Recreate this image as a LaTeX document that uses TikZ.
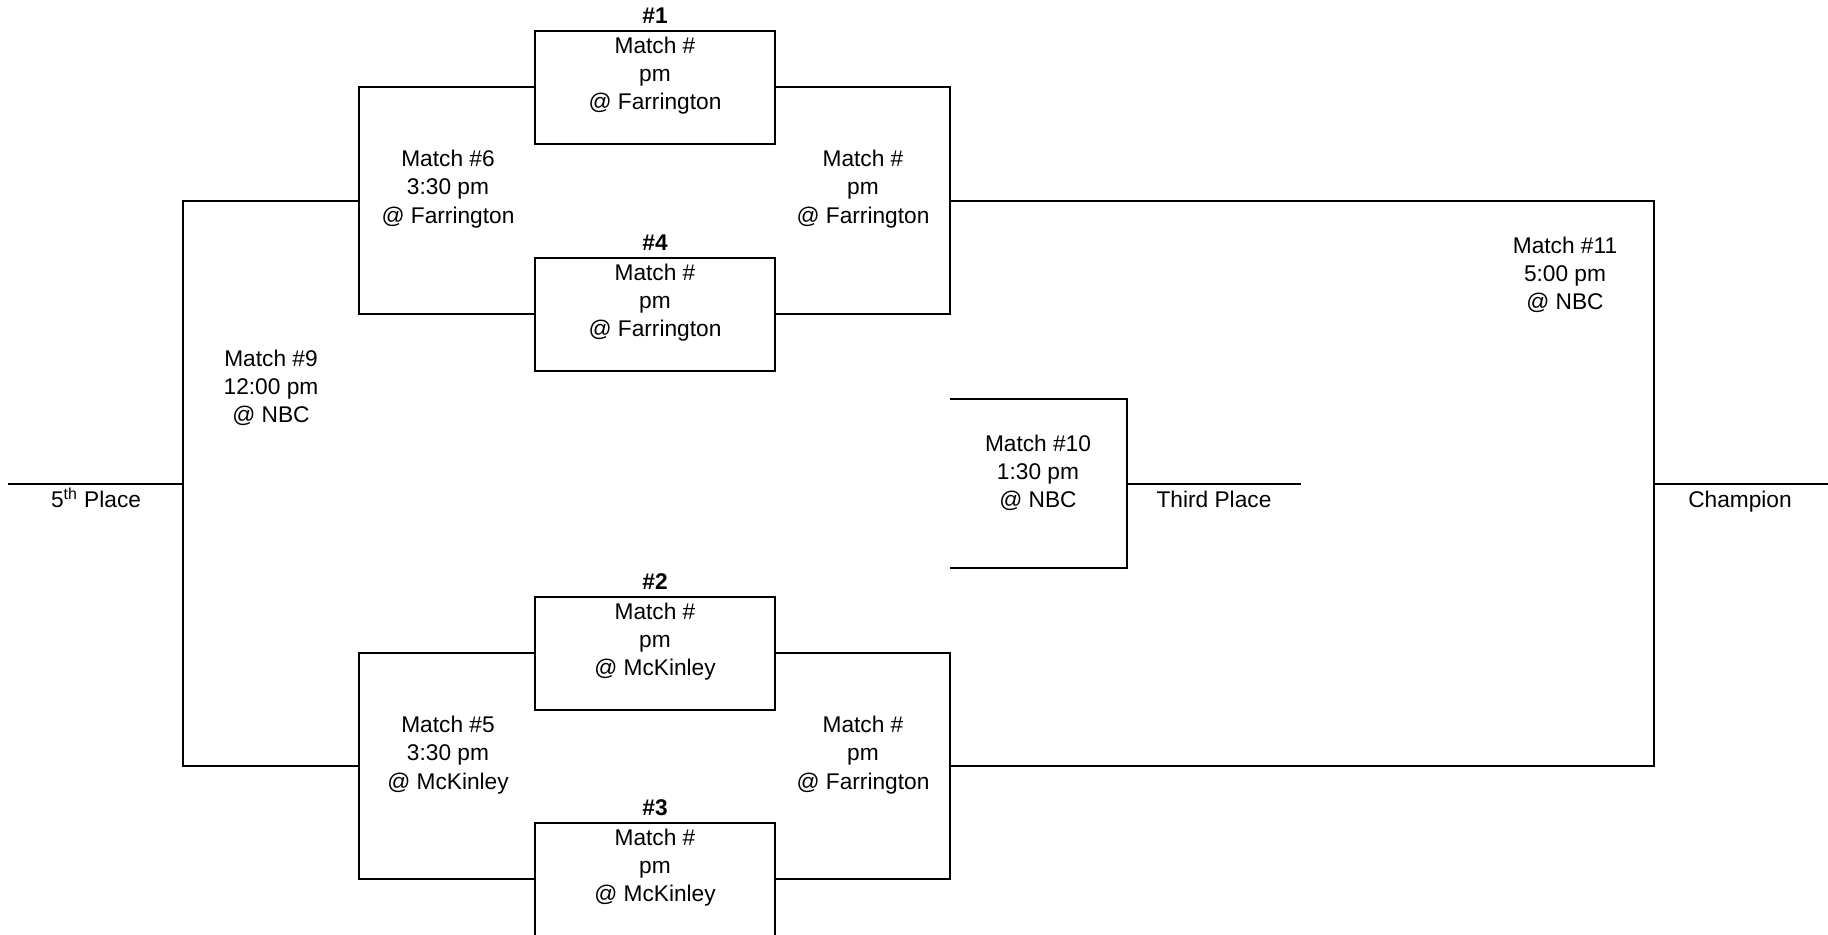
\documentclass[tikz,border=0pt]{standalone}
\usepackage{fontspec}
\setmainfont{Liberation Sans}
\usetikzlibrary{positioning}
\begin{document}
\begin{tikzpicture}
[x=5pt, y=5pt, line width=1pt, font=\fontsize{11.35}{14.15}\selectfont,
game/.style={rectangle, draw, outer sep=0pt, inner sep=0pt, minimum width=120pt, minimum height=56.5pt},
info/.style={align=center, inner sep=0pt},
seed/.style={inner sep=1pt},
place/.style={anchor=base, inner sep=0pt}]

\useasboundingbox (0,0) rectangle (182.8,93.5);
\clip (0,0) rectangle (182.8,93.5);

\node[game] (g1) at (65.5,84.75) {};
\node[game] (g4) at (65.5,62.05) {};
\node[game] (g2) at (65.5,28.15) {};
\node[game] (g3) at (65.5,5.55) {};

\node[seed, above=2pt of g1] (s1) {\textbf{\#1}};
\node[seed, above=2pt of g4] (s4) {\textbf{\#4}};
\node[seed, above=2pt of g2] (s2) {\textbf{\#2}};
\node[seed, above=2pt of g3] (s3) {\textbf{\#3}};

\node[info] (t1) at ([yshift=6pt]g1.center) {Match \#\\pm\\@ Farrington};
\node[info] (t4) at ([yshift=6pt]g4.center) {Match \#\\pm\\@ Farrington};
\node[info] (t2) at ([yshift=6pt]g2.center) {Match \#\\pm\\@ McKinley};
\node[info] (t3) at ([yshift=6pt]g3.center) {Match \#\\pm\\@ McKinley};

\coordinate (j6) at (35.9,73.4);
\coordinate (j5) at (35.9,16.85);
\coordinate (k6) at (95.0,73.4);
\coordinate (k5) at (95.0,16.85);
\coordinate (j9) at (18.3,45.125);
\coordinate (j10) at (112.7,45.125);
\coordinate (j11) at (165.4,45.125);
\coordinate (k10a) at (95.0,53.575);
\coordinate (k10b) at (95.0,36.675);
\coordinate (fifth) at (0.8,45.125);
\coordinate (third) at (130.1,45.125);
\coordinate (champ) at (183.0,45.125);

\draw (g1.west) -| (j6) |- (g4.west);
\draw (g2.west) -| (j5) |- (g3.west);
\draw (g1.east) -| (k6) |- (g4.east);
\draw (g2.east) -| (k5) |- (g3.east);
\draw (j6) -| (j9) |- (j5);
\draw (j9) -- (fifth);
\draw (k6) -| (j11) |- (k5);
\draw (j11) -- (champ);
\draw (k10a) -| (j10) |- (k10b);
\draw (j10) -- (third);

\node[info] (m6) at (44.8,74.6) {Match \#6\\3:30 pm\\@ Farrington};
\node[info] (mtop) at (86.3,74.6) {Match \#\\pm\\@ Farrington};
\node[info] (m5) at (44.8,18.0) {Match \#5\\3:30 pm\\@ McKinley};
\node[info] (mbot) at (86.3,18.0) {Match \#\\pm\\@ Farrington};
\node[info] (m9) at (27.1,54.7) {Match \#9\\12:00 pm\\@ NBC};
\node[info] (m10) at (103.8,46.2) {Match \#10\\1:30 pm\\@ NBC};
\node[info] (m11) at (156.5,66.0) {Match \#11\\5:00 pm\\@ NBC};

\node[place] (p5) at (9.6,42.75) {5\textsuperscript{th} Place};
\node[place] (p3) at (121.4,42.75) {Third Place};
\node[place] (p1) at (174.0,42.75) {Champion};
\end{tikzpicture}
\end{document}
